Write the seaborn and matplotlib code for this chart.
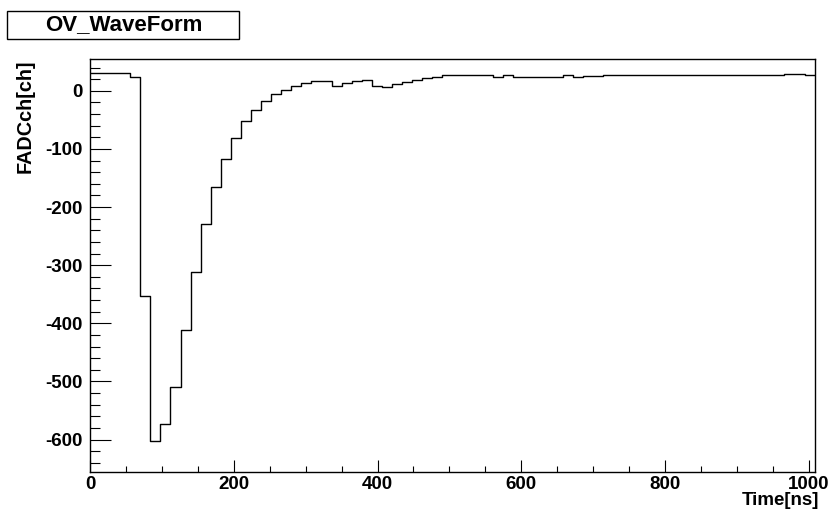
import numpy as np
import pandas as pd
import seaborn as sns
import matplotlib.pyplot as plt
from matplotlib.patches import Rectangle
from matplotlib.ticker import MultipleLocator

# waveform: 72 bins of 14 ns, FADC counts
bin_width = 14
adc = [30, 30, 30, 30, 24, -353, -603, -573, -510, -411,
       -312, -229, -165, -117, -82, -52, -33, -17, -6, 2,
       9, 13, 16, 17, 9, 14, 17, 18, 9, 6,
       11, 15, 19, 22, 24, 26.4, 26.4, 26.4, 26.4, 26.4,
       24, 26.4, 24, 24, 23.5, 24, 23.5, 26.4, 24, 25,
       25, 27, 27, 26.5, 26.5, 26.5, 26.5, 28, 28, 26.4,
       26.4, 26.4, 26.4, 26.4, 26.4, 28, 28, 28, 28, 29,
       29, 28]
edges = [i * bin_width for i in range(len(adc) + 1)]
centers = [e + bin_width / 2 for e in edges[:-1]]

df = pd.DataFrame({'time': centers, 'adc': adc})

sns.set_theme(style='white')
plt.rcParams['font.family'] = ['Liberation Sans', 'DejaVu Sans']
plt.rcParams['font.weight'] = 'bold'
plt.rcParams['axes.unicode_minus'] = False
plt.rcParams['text.color'] = 'black'
plt.rcParams['xtick.color'] = 'black'
plt.rcParams['ytick.color'] = 'black'
plt.rcParams['axes.labelcolor'] = 'black'

fig = plt.figure(figsize=(8.33, 5.12), dpi=100)
ax = fig.add_axes([0.108, 0.079, 0.870, 0.805])

sns.histplot(data=df, x='time', weights='adc', bins=edges, element='step',
             fill=False, color='black', linewidth=1, ax=ax)

ax.set_xlim(0, 1008)
ax.set_ylim(-655, 54)

ax.xaxis.set_major_locator(MultipleLocator(200))
ax.xaxis.set_minor_locator(MultipleLocator(50))
ax.yaxis.set_major_locator(MultipleLocator(100))
ax.yaxis.set_minor_locator(MultipleLocator(20))

ax.tick_params(axis='both', which='both', direction='in', color='black',
               width=0.8, bottom=True, left=True, top=False, right=False,
               labelsize=13.5, labelcolor='black')
ax.tick_params(axis='y', which='major', length=15, pad=5)
ax.tick_params(axis='y', which='minor', length=7.5)
ax.tick_params(axis='x', which='major', length=8.5, pad=3)
ax.tick_params(axis='x', which='minor', length=4.3)
for lab in ax.get_xticklabels() + ax.get_yticklabels():
    lab.set_fontweight('bold')

for s in ax.spines.values():
    s.set_color('black')
    s.set_linewidth(1)

ax.set_xlabel('Time[ns]', fontsize=13.5, fontweight='bold', ha='right', va='top')
ax.xaxis.set_label_coords(1.0055, -0.05)
ax.set_ylabel('FADCch[ch]', fontsize=14.3, fontweight='bold', ha='right', va='bottom')
ax.yaxis.set_label_coords(-0.076, 1.0)

# title box, ROOT style
fig.patches.append(Rectangle((7 / 833, 1 - 38.5 / 512), 232 / 833, 28 / 512,
                             transform=fig.transFigure, facecolor='white',
                             edgecolor='black', linewidth=1))
fig.text(124 / 833, 1 - 24.5 / 512, 'OV_WaveForm', ha='center', va='center',
         fontsize=16, fontweight='bold')

fig.savefig('out.png', dpi=100)
